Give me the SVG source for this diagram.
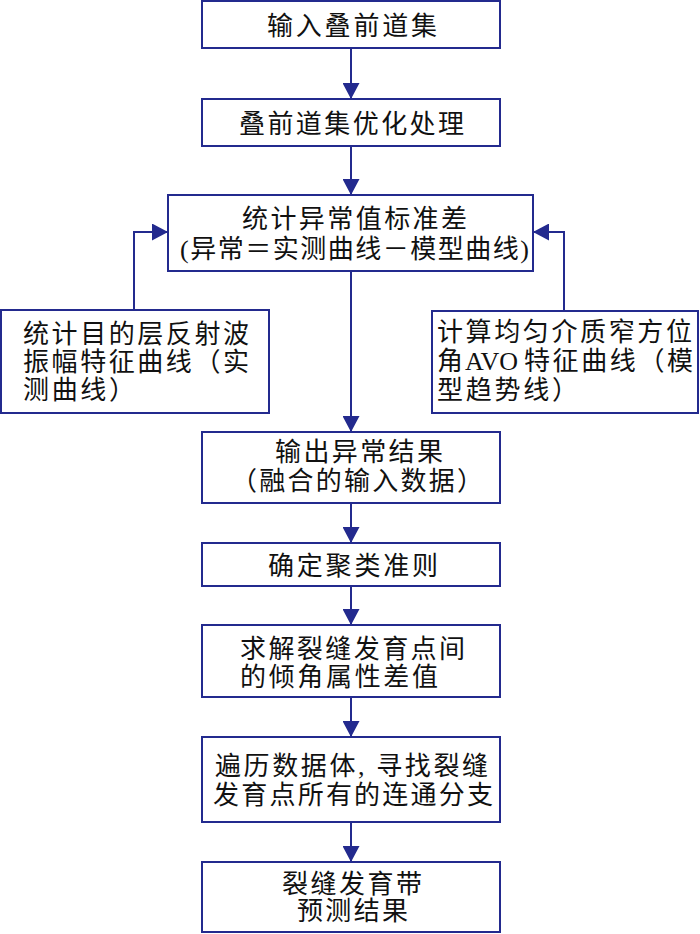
<svg xmlns="http://www.w3.org/2000/svg" width="700" height="934" viewBox="0 0 700 934">
<defs>
<marker id="ah" viewBox="0 0 16 17" refX="16" refY="8.5" markerWidth="16" markerHeight="17" markerUnits="userSpaceOnUse" orient="auto">
<path d="M0,0 L16,8.5 L0,17 z" fill="#232a8e"/>
</marker>
<style>
.box{fill:#ffffff;stroke:#232a8e;stroke-width:2}
.t{font-family:"Liberation Serif","Noto Sans CJK SC",serif;font-size:26px;fill:#111111}
.c{fill:none;stroke:#232a8e;stroke-width:2}
</style>
</defs>
<rect width="700" height="934" fill="#ffffff"/>
<g id="connectors">
<line class="c" x1="351" y1="48" x2="351" y2="99" marker-end="url(#ah)"/>
<line class="c" x1="351" y1="146" x2="351" y2="195" marker-end="url(#ah)"/>
<line class="c" x1="351" y1="271" x2="351" y2="432" marker-end="url(#ah)"/>
<line class="c" x1="351" y1="503" x2="351" y2="543" marker-end="url(#ah)"/>
<line class="c" x1="351" y1="586" x2="351" y2="625" marker-end="url(#ah)"/>
<line class="c" x1="351" y1="697" x2="351" y2="737" marker-end="url(#ah)"/>
<line class="c" x1="351" y1="822" x2="351" y2="862" marker-end="url(#ah)"/>
<polyline class="c" points="134,310 134,232 168,232" marker-end="url(#ah)"/>
<polyline class="c" points="564,311 564,232 533,232" marker-end="url(#ah)"/>
</g>
<g id="n1">
<rect class="box" x="202" y="1" width="298" height="47"/>
<text class="t" x="267" y="35" textLength="170" lengthAdjust="spacing">输入叠前道集</text>
</g>
<g id="n2">
<rect class="box" x="202" y="99" width="298" height="47"/>
<text class="t" x="239" y="133" textLength="225" lengthAdjust="spacing">叠前道集优化处理</text>
</g>
<g id="n3">
<rect class="box" x="168" y="195" width="365" height="76"/>
<text class="t" x="242" y="228" textLength="225" lengthAdjust="spacing">统计异常值标准差</text>
<text class="t" x="180" y="258" textLength="349" lengthAdjust="spacing">(异常＝实测曲线－模型曲线)</text>
</g>
<g id="n-left">
<rect class="box" x="1" y="310" width="268" height="103"/>
<text class="t" x="23" y="343" textLength="226" lengthAdjust="spacing">统计目的层反射波</text>
<text class="t" x="23" y="371" textLength="226" lengthAdjust="spacing">振幅特征曲线（实</text>
<text class="t" x="23" y="399" textLength="112" lengthAdjust="spacing">测曲线）</text>
</g>
<g id="n-right">
<rect class="box" x="432" y="311" width="266" height="102"/>
<text class="t" x="437" y="341" textLength="255" lengthAdjust="spacing">计算均匀介质窄方位</text>
<text class="t" y="370"><tspan x="437">角</tspan><tspan x="465">AVO</tspan><tspan x="524" textLength="169" lengthAdjust="spacing">特征曲线（模</tspan></text>
<text class="t" x="437" y="399" textLength="141" lengthAdjust="spacing">型趋势线）</text>
</g>
<g id="n4">
<rect class="box" x="202" y="432" width="298" height="71"/>
<text class="t" x="275" y="461" textLength="168" lengthAdjust="spacing">输出异常结果</text>
<text class="t" x="231" y="490" textLength="252" lengthAdjust="spacing">（融合的输入数据）</text>
</g>
<g id="n5">
<rect class="box" x="202" y="543" width="298" height="43"/>
<text class="t" x="268" y="575" textLength="170" lengthAdjust="spacing">确定聚类准则</text>
</g>
<g id="n6">
<rect class="box" x="202" y="625" width="298" height="72"/>
<text class="t" x="240" y="658" textLength="225" lengthAdjust="spacing">求解裂缝发育点间</text>
<text class="t" x="240" y="686" textLength="198" lengthAdjust="spacing">的倾角属性差值</text>
</g>
<g id="n7">
<rect class="box" x="202" y="737" width="298" height="85"/>
<text class="t" x="215" y="775" textLength="273" lengthAdjust="spacing">遍历数据体, 寻找裂缝</text>
<text class="t" x="213" y="804" textLength="280" lengthAdjust="spacing">发育点所有的连通分支</text>
</g>
<g id="n8">
<rect class="box" x="202" y="862" width="298" height="70"/>
<text class="t" x="282" y="893" textLength="140" lengthAdjust="spacing">裂缝发育带</text>
<text class="t" x="297" y="920" textLength="111" lengthAdjust="spacing">预测结果</text>
</g>
</svg>
